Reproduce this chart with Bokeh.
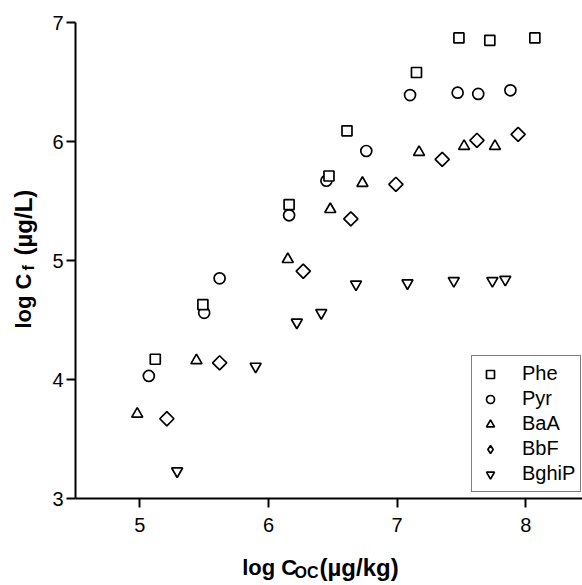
import numpy as np
from bokeh.plotting import figure
from bokeh.models import (Range1d, FixedTicker, Legend, LegendItem, Label, LinearAxis)
from bokeh.embed import file_html
from bokeh.resources import INLINE

# ---- data ----
phe_x = [5.12, 5.49, 6.16, 6.47, 6.61, 7.15, 7.48, 7.72, 8.07]
phe_y = [4.17, 4.63, 5.47, 5.71, 6.09, 6.58, 6.87, 6.85, 6.87]
pyr_x = [5.07, 5.50, 5.62, 6.16, 6.45, 6.76, 7.10, 7.47, 7.63, 7.88]
pyr_y = [4.03, 4.56, 4.85, 5.38, 5.67, 5.92, 6.39, 6.41, 6.40, 6.43]
baa_x = [4.98, 5.44, 6.15, 6.48, 6.73, 7.17, 7.52, 7.76]
baa_y = [3.71, 4.16, 5.01, 5.43, 5.65, 5.91, 5.96, 5.96]
bbf_x = [5.21, 5.62, 6.27, 6.64, 6.99, 7.35, 7.62, 7.94]
bbf_y = [3.67, 4.14, 4.91, 5.35, 5.64, 5.85, 6.01, 6.06]
bghip_x = [5.29, 5.90, 6.22, 6.41, 6.68, 7.08, 7.44, 7.74, 7.84]
bghip_y = [3.23, 4.11, 4.48, 4.56, 4.80, 4.81, 4.83, 4.83, 4.84]
series_names = ["Phe", "Pyr", "BaA", "BbF", "BghiP"]
x_ticks = [5, 6, 7, 8]
y_ticks = [3, 4, 5, 6, 7]

FONT = "Liberation Sans"
W, H = 582, 585
# plot-area placement inside the canvas (pixels)
AX_LEFT, AX_TOP, AX_BOTTOM = 75, 22, 498
X_MIN, Y_MIN, Y_MAX = 4.5, 3.0, 7.0
PX_PER_X = 128.67
PX_PER_Y = (AX_BOTTOM - AX_TOP) / (Y_MAX - Y_MIN)
X_MAX = X_MIN + (W - AX_LEFT) / PX_PER_X

# the frame covers the whole canvas; axes are placed at fixed data locations
xr = Range1d(X_MIN - AX_LEFT / PX_PER_X, X_MAX)
yr = Range1d(Y_MIN - (H - AX_BOTTOM) / PX_PER_Y, Y_MAX + AX_TOP / PX_PER_Y)

p = figure(width=W, height=H, output_backend="svg", toolbar_location=None,
           x_range=xr, y_range=yr, x_axis_location=None, y_axis_location=None,
           min_border=0, min_border_left=0, min_border_right=0,
           min_border_top=0, min_border_bottom=0)
p.outline_line_color = None
p.grid.visible = False
p.background_fill_color = "white"

xaxis = LinearAxis(fixed_location=Y_MIN, bounds=(X_MIN, X_MAX))
yaxis = LinearAxis(fixed_location=X_MIN, bounds=(Y_MIN, Y_MAX))
for ax, ticks in ((xaxis, x_ticks), (yaxis, y_ticks)):
    ax.ticker = FixedTicker(ticks=ticks)
    ax.axis_line_width = 2
    ax.axis_line_color = "black"
    ax.major_tick_line_width = 2
    ax.major_tick_line_color = "black"
    ax.major_tick_out = 9
    ax.major_tick_in = 0
    ax.minor_tick_line_color = None
    ax.major_label_text_font = FONT
    ax.major_label_text_font_size = "20px"
    ax.major_label_text_color = "black"
xaxis.major_label_standoff = 10
yaxis.major_label_standoff = 3
p.add_layout(xaxis, "below")
p.add_layout(yaxis, "left")

common = dict(line_color="black", line_width=1.7, fill_color="white")
r_bghip = p.scatter(bghip_x, bghip_y, marker="inverted_triangle", size=11, **common)
r_bbf = p.scatter(bbf_x, bbf_y, marker="square", angle=np.pi / 4, size=10, **common)
r_baa = p.scatter(baa_x, baa_y, marker="triangle", size=11, **common)
r_pyr = p.scatter(pyr_x, pyr_y, marker="circle", size=11, **common)
r_phe = p.scatter(phe_x, phe_y, marker="square", size=10, **common)
# legend-only diamond (rotated squares are drawn unrotated in legends)
r_bbf_leg = p.scatter(bbf_x, bbf_y, marker="diamond", size=14, visible=False, **common)

renderers = [r_phe, r_pyr, r_baa, r_bbf_leg, r_bghip]
legend = Legend(items=[LegendItem(label=n, renderers=[r]) for n, r in zip(series_names, renderers)],
                location=(471, H - 492), orientation="vertical",
                border_line_color="black", border_line_width=1.5,
                background_fill_color="white", background_fill_alpha=1.0,
                inactive_fill_alpha=0.0,
                label_text_font=FONT, label_text_font_size="20px",
                label_text_color="black",
                padding=5, spacing=0, margin=0, label_height=25,
                glyph_height=20, glyph_width=26, label_standoff=19)
p.add_layout(legend, "center")


def lab(px, py, text, size, angle=0.0):
    p.add_layout(Label(x=xr.start + px / PX_PER_X, y=yr.end - py / PX_PER_Y,
                       text=text, text_font=FONT,
                       text_font_style="bold", text_font_size=size,
                       text_baseline="alphabetic", text_align="left",
                       angle=angle, text_color="black"))


# x-axis title: log C_OC (µg/kg)
lab(241.7, 567, "log C", "22px")
lab(294.0, 572, "OC", "16px")
lab(319.0, 567, "(µg/kg)", "24px")
# y-axis title: log C_f (µg/L)
A = np.pi / 2
lab(23, 328, "log C", "22px", A)
lab(28, 270, "f", "16px", A)
lab(23, 255, "(µg/L)", "24px", A)

open("out.html", "w").write(file_html(p, INLINE))
